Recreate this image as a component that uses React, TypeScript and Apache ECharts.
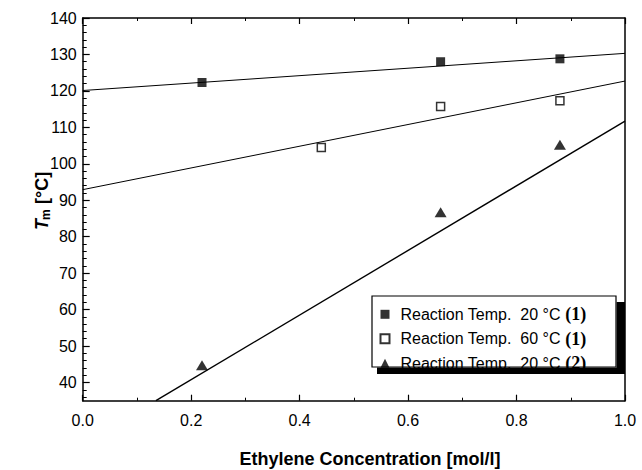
import React, { useEffect, useRef } from 'react';
import * as echarts from 'echarts';

// Data
const filledX = [0.22, 0.66, 0.88];
const filledY = [122.3, 128.0, 128.8];
const openX = [0.44, 0.66, 0.88];
const openY = [104.5, 115.7, 117.3];
const triX = [0.22, 0.66, 0.88];
const triY = [44.7, 86.7, 105.2];

// Fitted lines (end points)
const fit1 = [[0, 120.1], [1.0, 130.3]];
const fit2 = [[0, 92.9], [1.0, 122.7]];
const fit3 = [[0.135, 35.0], [1.0, 111.7]];

const seriesNames = [
  'Reaction Temp.  20 °C (1)',
  'Reaction Temp.  60 °C (1)',
  'Reaction Temp.  20 °C (2)',
];

const yMajorTicks = [40, 50, 60, 70, 80, 90, 100, 110, 120, 130, 140];
const yMinorTicks: number[] = [];
for (let v = 36; v < 140; v += 2) if (v % 10 !== 0) yMinorTicks.push(v);

const FONT = '"Liberation Sans", Arial, Helvetica, sans-serif';

const zip = (xs: number[], ys: number[]) => xs.map((x, i) => [x, ys[i]]);

export default function App() {
  const ref = useRef<HTMLDivElement>(null);
  useEffect(() => {
    document.body.style.margin = '0';
    const chart = echarts.init(ref.current!, null, { renderer: 'svg' });
    const axisLine = { show: true, lineStyle: { color: '#000', width: 1.5 } };
    const xTick = { show: true, inside: true, length: 6, lineStyle: { color: '#000', width: 1.2 } };
    const xMinor = { show: true, splitNumber: 2, length: 3, lineStyle: { color: '#000', width: 1 } };
    const option: any = {
      animation: false,
      grid: { left: 82.7, top: 18, right: 17, bottom: 69.3, containLabel: false },
      xAxis: [
        {
          type: 'value', min: 0, max: 1, interval: 0.2, position: 'bottom',
          axisLine, axisTick: xTick, minorTick: xMinor, splitLine: { show: false },
          axisLabel: { margin: 12, fontSize: 16, color: '#000', fontFamily: FONT, formatter: (v: number) => v.toFixed(1) },
        },
        {
          type: 'value', min: 0, max: 1, interval: 0.2, position: 'top',
          axisLine, axisTick: xTick, minorTick: xMinor, splitLine: { show: false },
          axisLabel: { show: false },
        },
      ],
      yAxis: [
        {
          type: 'value', min: 35, max: 140, position: 'left',
          axisLine,
          axisTick: { show: true, inside: true, length: 7, customValues: yMajorTicks, lineStyle: { color: '#000', width: 1.2 } },
          axisLabel: { customValues: yMajorTicks, margin: 6, fontSize: 16, color: '#000', fontFamily: FONT },
          splitLine: { show: false },
        },
        {
          type: 'value', min: 35, max: 140, position: 'left',
          axisLine: { show: false },
          axisTick: { show: true, inside: true, length: 4, customValues: yMinorTicks, lineStyle: { color: '#000', width: 1 } },
          axisLabel: { show: false },
          splitLine: { show: false },
        },
        {
          type: 'value', min: 35, max: 140, position: 'right',
          axisLine, axisTick: { show: false }, axisLabel: { show: false }, splitLine: { show: false },
        },
      ],
      legend: {
        orient: 'vertical', left: 379.5, top: 305.3, padding: 0,
        itemWidth: 9, itemHeight: 9, itemGap: 6.5, selectedMode: false, z: 10,
        data: seriesNames,
        formatter: (name: string) => name.replace(/\((\d)\)$/, '{b|($1)}'),
        textStyle: {
          fontSize: 16, fontFamily: FONT, color: '#000', lineHeight: 16, padding: [0, 0, 0, 6],
          rich: { b: { fontFamily: '"Liberation Serif", "Times New Roman", serif', fontWeight: 'bold', fontSize: 18, lineHeight: 16, color: '#000' } },
        },
      },
      series: [
        { type: 'line', data: fit1, symbol: 'none', silent: true, lineStyle: { color: '#000', width: 1 }, z: 2 },
        { type: 'line', data: fit2, symbol: 'none', silent: true, lineStyle: { color: '#000', width: 1 }, z: 2 },
        { type: 'line', data: fit3, symbol: 'none', silent: true, lineStyle: { color: '#000', width: 1.4 }, z: 2 },
        {
          name: seriesNames[0], type: 'scatter', data: zip(filledX, filledY), symbol: 'rect', symbolSize: 9,
          itemStyle: { color: '#000' }, z: 3,
        },
        {
          name: seriesNames[1], type: 'scatter', data: zip(openX, openY), symbol: 'rect', symbolSize: 8,
          itemStyle: { color: '#fff', borderColor: '#000', borderWidth: 1.5 }, z: 3,
        },
        {
          name: seriesNames[2], type: 'scatter', data: zip(triX, triY), symbol: 'triangle', symbolSize: [12, 10],
          itemStyle: { color: '#000' }, z: 3,
        },
      ],
      graphic: [
        { type: 'rect', z: 6, shape: { x: 372, y: 296, width: 244, height: 71 }, style: { fill: '#fff', stroke: '#000', lineWidth: 1.2 } },
        { type: 'rect', z: 6, shape: { x: 616.6, y: 302, width: 8.4, height: 72 }, style: { fill: '#000' } },
        { type: 'rect', z: 6, shape: { x: 377, y: 367.6, width: 248, height: 6.4 }, style: { fill: '#000' } },
        {
          type: 'text', x: 370, y: 459, z: 6,
          style: { text: 'Ethylene Concentration [mol/l]', fontSize: 18, fontWeight: 'bold', fontFamily: FONT, fill: '#000', align: 'center', verticalAlign: 'middle' },
        },
        {
          type: 'group', x: 42, y: 200, rotation: Math.PI / 2, z: 6,
          children: [
            { type: 'text', x: -30, y: 0, style: { text: 'T', fontSize: 18, fontWeight: 'bold', fontStyle: 'italic', fontFamily: FONT, fill: '#000', align: 'left', verticalAlign: 'middle' } },
            { type: 'text', x: -20, y: 4, style: { text: 'm', fontSize: 12, fontWeight: 'bold', fontFamily: FONT, fill: '#000', align: 'left', verticalAlign: 'middle' } },
            { type: 'text', x: -4, y: 0, style: { text: '[°C]', fontSize: 18, fontWeight: 'bold', fontFamily: FONT, fill: '#000', align: 'left', verticalAlign: 'middle' } },
          ],
        },
      ],
    };
    chart.setOption(option);
    return () => chart.dispose();
  }, []);
  return <div ref={ref} style={{ width: 642, height: 470 }} />;
}
